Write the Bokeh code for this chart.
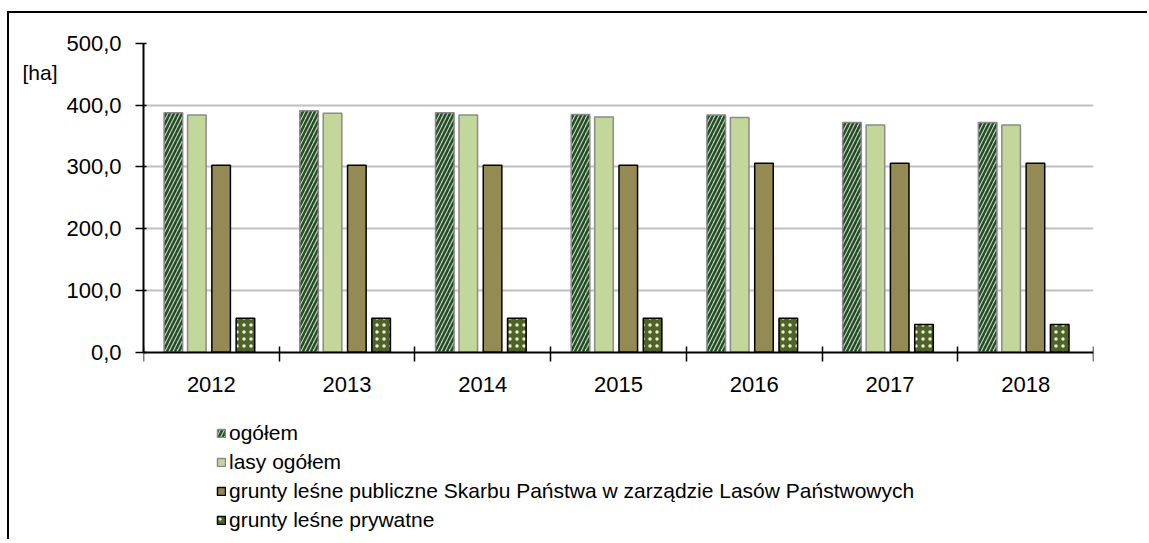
from bokeh.plotting import figure
from bokeh.models import (ColumnDataSource, FixedTicker, Legend, LegendItem, Range1d,
                          LinearAxis)
from bokeh.transform import dodge
from bokeh.embed import file_html
from bokeh.resources import INLINE

years = ["2012", "2013", "2014", "2015", "2016", "2017", "2018"]
ogolem = [388, 391, 388, 385, 384, 372, 372]
lasy_ogolem = [384, 387, 384, 381, 380, 368, 368]
grunty_publiczne = [303, 303, 303, 303, 306, 306, 306]
grunty_prywatne = [55, 55, 55, 55, 55, 45, 45]
series_names = [
    "ogółem",
    "lasy ogółem",
    "grunty leśne publiczne Skarbu Państwa w zarządzie Lasów Państwowych",
    "grunty leśne prywatne",
]
y_ticks = [0, 100, 200, 300, 400, 500]
y_tick_labels = ["0,0", "100,0", "200,0", "300,0", "400,0", "500,0"]
unit_label = "[ha]"

FONT = "Liberation Sans"

xc = [i + 0.5 for i in range(len(years))]
source = ColumnDataSource(dict(x=xc, ogolem=ogolem, lasy=lasy_ogolem,
                               publ=grunty_publiczne, pryw=grunty_prywatne))

# frame extends below the value axis so the legend (drawn in the frame) is not clipped
p = figure(width=1140, height=528, output_backend="svg", toolbar_location=None,
           x_range=Range1d(0, len(years)), y_range=Range1d(-306.6, 500),
           x_axis_location=None,
           min_border_left=134, min_border_right=56, min_border_top=30,
           min_border_bottom=0)
p.margin = (11, 0, 0, 7)
p.styles = {"border-left": "2px solid #000000", "border-top": "2px solid #000000"}
p.outline_line_color = None
p.background_fill_color = "white"
p.border_fill_color = "white"

bw = 0.137
r1 = p.vbar(x=dodge("x", -0.280, range=p.x_range), top="ogolem", width=bw, bottom=0,
            source=source, fill_color="#c8c8c8", hatch_pattern="/", hatch_color="#1d4f1d",
            hatch_scale=8, hatch_weight=2.4, line_color="#8a8a8a", line_width=1.5)
r2 = p.vbar(x=dodge("x", -0.107, range=p.x_range), top="lasy", width=bw, bottom=0,
            source=source, fill_color="#c4d79b", line_color="#8a8a8a", line_width=1.5)
r3 = p.vbar(x=dodge("x", 0.072, range=p.x_range), top="publ", width=bw, bottom=0,
            source=source, fill_color="#948a54", line_color="#000000", line_width=1.5)
r4 = p.vbar(x=dodge("x", 0.251, range=p.x_range), top="pryw", width=bw, bottom=0,
            source=source, fill_color="#4f6228", hatch_pattern=".", hatch_color="#e8eed8",
            hatch_scale=7, hatch_weight=2.5, line_color="#000000", line_width=1.5)

# x axis drawn at value 0
xaxis = LinearAxis(fixed_location=0,
                   ticker=FixedTicker(ticks=xc, minor_ticks=list(range(len(years) + 1))),
                   major_label_overrides={x: y for x, y in zip(xc, years)},
                   major_tick_line_color=None, major_tick_out=0, major_tick_in=0,
                   minor_tick_line_color="#000000", minor_tick_line_width=1.5,
                   minor_tick_in=6, minor_tick_out=9,
                   axis_line_color="#000000", axis_line_width=2,
                   major_label_standoff=16, major_label_text_font=FONT,
                   major_label_text_font_size="22px", major_label_text_color="#000000")
p.add_layout(xaxis, "below")

# y axis
p.yaxis.ticker = FixedTicker(ticks=y_ticks)
p.yaxis.bounds = (0, 500)
p.yaxis.major_label_overrides = {t: l for t, l in zip(y_ticks, y_tick_labels)}
p.yaxis.minor_tick_line_color = None
p.yaxis.major_tick_line_color = "#000000"
p.yaxis.major_tick_line_width = 1.5
p.yaxis.major_tick_in = 3
p.yaxis.major_tick_out = 8
p.yaxis.axis_line_color = "#000000"
p.yaxis.axis_line_width = 2
p.yaxis.major_label_standoff = 14
p.yaxis.major_label_text_font = FONT
p.yaxis.major_label_text_font_size = "22px"
p.yaxis.major_label_text_color = "#000000"

# unit label as an outer left axis with a single labelled tick
unit_axis = LinearAxis(ticker=FixedTicker(ticks=[453]),
                       major_label_overrides={453: unit_label},
                       axis_line_color=None, major_tick_line_color=None,
                       minor_tick_line_color=None, major_tick_in=0, major_tick_out=0,
                       major_label_standoff=6, major_label_text_font=FONT,
                       major_label_text_font_size="21px",
                       major_label_text_color="#000000")
p.add_layout(unit_axis, "left")

p.xgrid.grid_line_color = None
p.ygrid.ticker = FixedTicker(ticks=y_ticks[1:])
p.ygrid.grid_line_color = "#c0c0c0"
p.ygrid.grid_line_width = 2

legend = Legend(items=[LegendItem(label=n, renderers=[r]) for n, r in
                       zip(series_names, [r1, r2, r3, r4])],
                location=(73, 9), orientation="vertical",
                border_line_color=None, background_fill_alpha=0,
                padding=0, margin=0, spacing=5, glyph_width=10, glyph_height=10,
                label_height=20, label_standoff=3,
                label_text_font=FONT, label_text_font_size="21px",
                label_text_color="#000000")
p.add_layout(legend, "center")

open("out.html", "w").write(file_html(p, INLINE))
